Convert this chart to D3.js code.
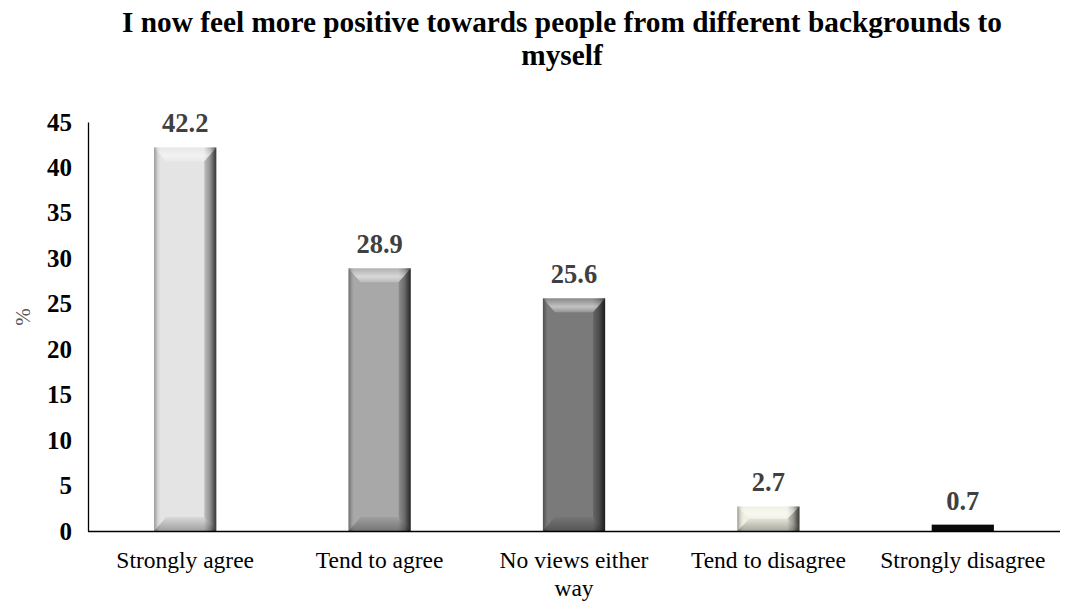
<!DOCTYPE html>
<html><head><meta charset="utf-8">
<script src="https://cdn.jsdelivr.net/npm/d3@7"></script>
<style>body{margin:0;background:#fff}svg{display:block}</style>
</head><body>
<script>
const categories = ["Strongly agree","Tend to agree","No views either way","Tend to disagree","Strongly disagree"];
const values = [42.2, 28.9, 25.6, 2.7, 0.7];
const barColors = ["#e4e4e4","#a8a8a8","#7a7a7a","#efefe2","#0a0a0a"];
const yTicks = [0,5,10,15,20,25,30,35,40,45];
const titleLines = ["I now feel more positive towards people from different backgrounds to","myself"];

const W=1069,H=601;
const svg=d3.select("body").append("svg").attr("width",W).attr("height",H);
const m={l:88,r:1060,t:122,b:531};
const x=d3.scaleBand().domain(categories).range([m.l,m.r]).paddingInner(0.68).paddingOuter(0.34);
const y=d3.scaleLinear().domain([0,45]).range([m.b,m.t]);

const defs=svg.append("defs");
const sg=defs.append("linearGradient").attr("id","side").attr("x1",0).attr("x2",1).attr("y1",0).attr("y2",0);
[[0,"#000",0.35],[0.04,"#000",0.15],[0.12,"#fff",0.0],[0.8,"#000",0.0],[0.9,"#000",0.25],[0.97,"#000",0.6],[1,"#000",0.7]]
 .forEach(s=>sg.append("stop").attr("offset",s[0]).attr("stop-color",s[1]).attr("stop-opacity",s[2]));
const tg=defs.append("linearGradient").attr("id","topb").attr("x1",0).attr("x2",0).attr("y1",0).attr("y2",1);
[[0,"#fff",0.1],[0.6,"#fff",0.55],[1,"#fff",0.2]].forEach(s=>tg.append("stop").attr("offset",s[0]).attr("stop-color",s[1]).attr("stop-opacity",s[2]));
const bg=defs.append("linearGradient").attr("id","botb").attr("x1",0).attr("x2",0).attr("y1",0).attr("y2",1);
[[0,"#000",0.05],[1,"#000",0.3]].forEach(s=>bg.append("stop").attr("offset",s[0]).attr("stop-color",s[1]).attr("stop-opacity",s[2]));

// title
svg.append("text").attr("x",562).attr("y",32).attr("text-anchor","middle")
 .attr("font-family","Liberation Serif").attr("font-weight","bold").attr("font-size",29.3).attr("fill","#000")
 .selectAll("tspan").data(titleLines).join("tspan").attr("x",562).attr("dy",(d,i)=>i?33:0).text(d=>d);

// bars
const g=svg.append("g");
categories.forEach((c,i)=>{
  const x0=x(c), bw=x.bandwidth(), yt=y(values[i]), yb=y(0), h=yb-yt;
  g.append("rect").attr("x",x0).attr("y",yt).attr("width",bw).attr("height",h).attr("fill",barColors[i]);
  if(i<4){
    g.append("rect").attr("x",x0).attr("y",yt).attr("width",bw).attr("height",h).attr("fill","url(#side)");
    const bv=Math.min(14,h/2), bx=Math.min(12,bw/2);
    g.append("path").attr("d",`M${x0},${yt}L${x0+bw},${yt}L${x0+bw-bx},${yt+bv}L${x0+bx},${yt+bv}Z`).attr("fill","url(#topb)");
    g.append("path").attr("d",`M${x0},${yb}L${x0+bw},${yb}L${x0+bw-bx},${yb-bv}L${x0+bx},${yb-bv}Z`).attr("fill","url(#botb)");
    g.append("path").attr("d",`M${x0+bw},${yt}L${x0+bw-bx},${yt+bv}L${x0+bw-bx},${yb-bv}L${x0+bw},${yb}Z`).attr("fill","#000").attr("opacity",0.15);
  }
  g.append("text").attr("x",x0+bw/2).attr("y",yt-15).attr("text-anchor","middle")
   .attr("font-family","Liberation Serif").attr("font-weight","bold").attr("font-size",26.5).attr("fill","#404040")
   .text(values[i].toFixed(1));
});

// axes
const ya=svg.append("g").attr("transform",`translate(${m.l},0)`).call(d3.axisLeft(y).tickValues(yTicks).tickSize(0).tickPadding(16));
ya.select(".domain").attr("stroke","#000").attr("stroke-width",1.3);
ya.selectAll("text").attr("font-family","Liberation Serif").attr("font-weight","bold").attr("font-size",25).attr("fill","#000");
svg.append("line").attr("x1",m.l).attr("x2",m.r).attr("y1",m.b+0.5).attr("y2",m.b+0.5).attr("stroke","#000").attr("stroke-width",1.3);

const xa=svg.append("g").attr("transform",`translate(0,${m.b})`).call(d3.axisBottom(x).tickSize(0).tickPadding(20));
xa.select(".domain").remove();
xa.selectAll("text").attr("font-family","Liberation Serif").attr("font-size",23.5).attr("fill","#000")
 .each(function(d){
   const t=d3.select(this);
   if(d==="No views either way"){ t.text(null);
     t.append("tspan").attr("x",0).attr("dy","0.71em").text("No views either");
     t.append("tspan").attr("x",0).attr("dy","1.2em").text("way");
     t.attr("dy",null);
   }
 });

svg.append("text").attr("transform","translate(30,317) rotate(-90)").attr("text-anchor","middle")
 .attr("font-family","Liberation Serif").attr("font-size",21).attr("fill","#595959").text("%");
</script>
</body></html>
